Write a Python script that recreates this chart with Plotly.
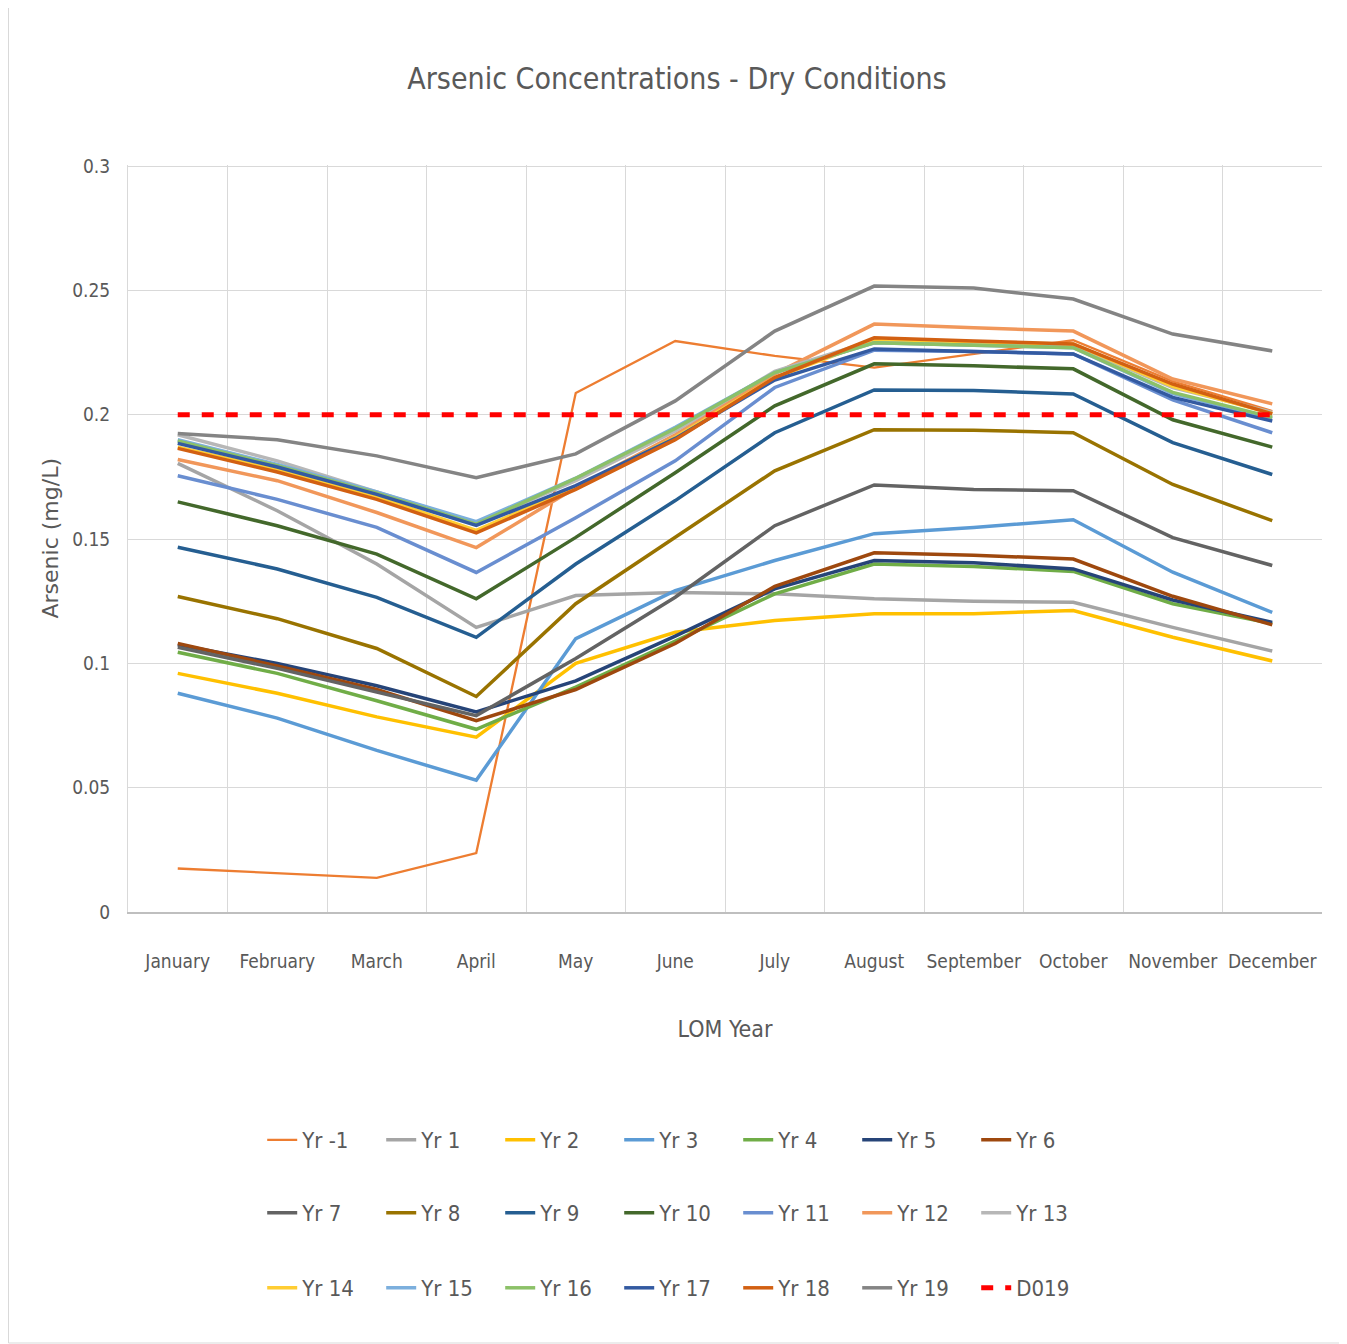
import plotly.graph_objects as go

months = ["January", "February", "March", "April", "May", "June", "July",
          "August", "September", "October", "November", "December"]

series_names = ["Yr -1", "Yr 1", "Yr 2", "Yr 3", "Yr 4", "Yr 5", "Yr 6",
                "Yr 7", "Yr 8", "Yr 9", "Yr 10", "Yr 11", "Yr 12", "Yr 13",
                "Yr 14", "Yr 15", "Yr 16", "Yr 17", "Yr 18", "Yr 19"]

yr_m1 = [0.0175, 0.0155, 0.0137, 0.0237, 0.2088, 0.2297, 0.2237, 0.2190, 0.2245, 0.2300, 0.2135, 0.2015]
yr1 = [0.1805, 0.1614, 0.1400, 0.1145, 0.1273, 0.1285, 0.1280, 0.1260, 0.1250, 0.1246, 0.1145, 0.1050]
yr2 = [0.0960, 0.0880, 0.0785, 0.0703, 0.1000, 0.1125, 0.1173, 0.1200, 0.1200, 0.1213, 0.1105, 0.1010]
yr3 = [0.0880, 0.0780, 0.0650, 0.0530, 0.1100, 0.1293, 0.1414, 0.1522, 0.1547, 0.1578, 0.1367, 0.1205]
yr4 = [0.1045, 0.0960, 0.0850, 0.0735, 0.0905, 0.1090, 0.1280, 0.1400, 0.1390, 0.1370, 0.1240, 0.1160]
yr5 = [0.1075, 0.1000, 0.0910, 0.0805, 0.0930, 0.1110, 0.1300, 0.1414, 0.1405, 0.1380, 0.1255, 0.1165]
yr6 = [0.1080, 0.0990, 0.0895, 0.0770, 0.0895, 0.1080, 0.1310, 0.1445, 0.1435, 0.1420, 0.1270, 0.1155]
yr7 = [0.1065, 0.0980, 0.0885, 0.0790, 0.1020, 0.1266, 0.1554, 0.1718, 0.1700, 0.1695, 0.1506, 0.1394]
yr8 = [0.1269, 0.1180, 0.1060, 0.0867, 0.1240, 0.1507, 0.1775, 0.1940, 0.1938, 0.1928, 0.1720, 0.1574]
yr9 = [0.1467, 0.1380, 0.1266, 0.1105, 0.1400, 0.1655, 0.1928, 0.2100, 0.2098, 0.2084, 0.1888, 0.1760]
yr10 = [0.1650, 0.1554, 0.1440, 0.1260, 0.1507, 0.1767, 0.2036, 0.2205, 0.2197, 0.2185, 0.1980, 0.1870]
yr11 = [0.1755, 0.1660, 0.1547, 0.1366, 0.1586, 0.1815, 0.2110, 0.2260, 0.2255, 0.2245, 0.2060, 0.1928]
yr12 = [0.1820, 0.1735, 0.1607, 0.1466, 0.1707, 0.1920, 0.2165, 0.2365, 0.2350, 0.2337, 0.2144, 0.2044]
yr13 = [0.1920, 0.1815, 0.1690, 0.1565, 0.1735, 0.1935, 0.2175, 0.2300, 0.2290, 0.2280, 0.2110, 0.2010]
yr14 = [0.1870, 0.1780, 0.1670, 0.1535, 0.1710, 0.1910, 0.2150, 0.2300, 0.2290, 0.2285, 0.2115, 0.2005]
yr15 = [0.1900, 0.1800, 0.1690, 0.1570, 0.1745, 0.1950, 0.2170, 0.2290, 0.2280, 0.2270, 0.2085, 0.1985]
yr16 = [0.1895, 0.1795, 0.1685, 0.1560, 0.1745, 0.1945, 0.2170, 0.2290, 0.2280, 0.2270, 0.2090, 0.1990]
yr17 = [0.1885, 0.1790, 0.1680, 0.1555, 0.1715, 0.1905, 0.2140, 0.2265, 0.2255, 0.2245, 0.2070, 0.1975]
yr18 = [0.1865, 0.1770, 0.1660, 0.1525, 0.1700, 0.1900, 0.2150, 0.2310, 0.2297, 0.2285, 0.2124, 0.2004]
yr19 = [0.1925, 0.1900, 0.1835, 0.1747, 0.1843, 0.2056, 0.2337, 0.2518, 0.2510, 0.2466, 0.2325, 0.2257]
d019 = [0.2] * 12

series_values = [yr_m1, yr1, yr2, yr3, yr4, yr5, yr6, yr7, yr8, yr9, yr10,
                 yr11, yr12, yr13, yr14, yr15, yr16, yr17, yr18, yr19]

colors = ["#ED7D31", "#A5A5A5", "#FFC000", "#5B9BD5", "#70AD47", "#264478", "#9E480E",
          "#636363", "#997300", "#255E91", "#43682B", "#698ED0", "#F1975A", "#B7B7B7",
          "#FFCD33", "#7CAFDD", "#8CC168", "#335AA1", "#D26012", "#848484"]

NARROW = "Liberation Sans Narrow, DejaVu Sans Condensed, Arial Narrow, sans-serif"
TXT = "#595959"

# page has an 8px body margin; figure is sized so that it fills the window
W, H = 1339, 1336
OFF = 8
PL, PT, PW, PH = 128 - OFF, 165 - OFF, 1194, 747

fig = go.Figure()
legends = ["legend", "legend2", "legend3"]
for i, (name, vals, col) in enumerate(zip(series_names, series_values, colors)):
    fig.add_trace(go.Scatter(
        x=months, y=vals, name=name, mode="lines",
        line=dict(color=col, width=2.3 if i == 0 else 3.5),
        legend=legends[i // 7],
    ))
fig.add_trace(go.Scatter(
    x=months, y=d019, name="D019", mode="lines",
    line=dict(color="#FF0000", width=5, dash="12px,12px"),
    legend="legend3",
))

leg_common = dict(orientation="h", xanchor="left", yanchor="middle",
                  font=dict(family=NARROW, size=22, color=TXT),
                  entrywidth=74, entrywidthmode="pixels",
                  bgcolor="rgba(0,0,0,0)", traceorder="normal")


def py(ypix):
    return (912 - ypix) / PH


def px(xpix):
    return (xpix - 128) / PW


fig.update_layout(
    width=W, height=H,
    paper_bgcolor="white", plot_bgcolor="white",
    margin=dict(l=PL, r=W - PL - PW, t=PT, b=H - PT - PH, autoexpand=False),
    title=dict(text="Arsenic Concentrations - Dry Conditions",
               font=dict(family=NARROW, size=30, color=TXT),
               x=(677 - OFF) / W, xref="container", xanchor="center",
               y=1 - (78 - OFF) / H, yref="container", yanchor="middle"),
    xaxis=dict(type="category", categoryorder="array", categoryarray=months,
               range=[-0.5, 11.5], tickson="boundaries", automargin=False,
               showgrid=True, gridcolor="#D9D9D9", gridwidth=1,
               showline=True, linecolor="#BFBFBF", linewidth=1.5,
               ticks="", ticklabelstandoff=31, tickangle=0,
               tickfont=dict(family=NARROW, size=19, color=TXT),
               title=dict(text="LOM Year", standoff=50,
                          font=dict(family=NARROW, size=23, color=TXT))),
    yaxis=dict(range=[0, 0.3005], dtick=0.05, tick0=0, automargin=False,
               showgrid=True, gridcolor="#D9D9D9", gridwidth=1,
               zeroline=False, showline=True, linecolor="#D9D9D9",
               ticks="", ticklabelstandoff=13,
               tickfont=dict(family=NARROW, size=19, color=TXT)),
    annotations=[dict(text="Arsenic (mg/L)", textangle=-90,
                      xref="paper", yref="paper", x=px(50), y=0.5,
                      xanchor="center", yanchor="middle", showarrow=False,
                      font=dict(family="DejaVu Sans, Verdana, sans-serif", size=22, color=TXT))],
    legend=dict(x=0.1124, y=py(1140), **leg_common),
    legend2=dict(x=0.1124, y=py(1213), **leg_common),
    legend3=dict(x=0.1124, y=py(1288), **leg_common),
    shapes=[dict(type="rect", xref="paper", yref="paper",
                 x0=px(8.5), x1=px(1345),
                 y0=py(1343), y1=py(7),
                 line=dict(color="#D9D9D9", width=1), fillcolor="rgba(0,0,0,0)",
                 layer="below")],
)

fig.write_html("out.html")
